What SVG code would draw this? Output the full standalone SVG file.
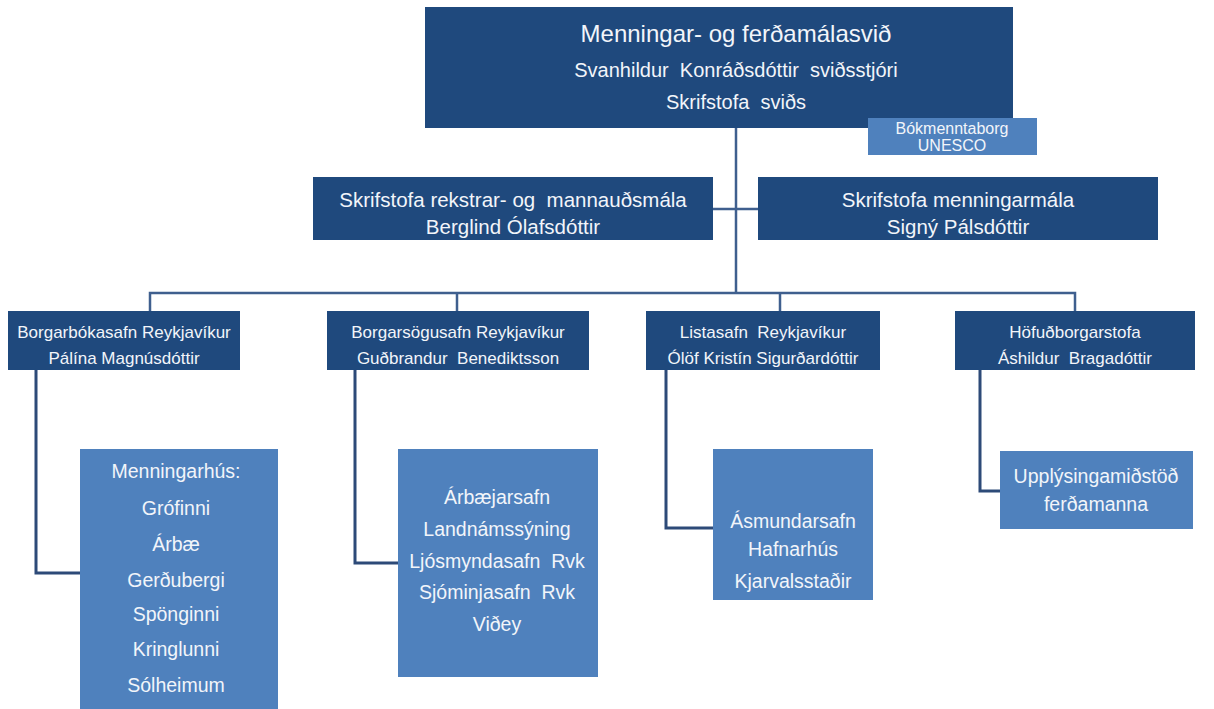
<svg xmlns="http://www.w3.org/2000/svg" width="1214" height="709" viewBox="0 0 1214 709">
<style>
.dk{fill:#1f497d}
.lt{fill:#4f81bd}
text{font-family:"Liberation Sans","DejaVu Sans",sans-serif;fill:#f2f5fa;text-anchor:middle;font-size:17px;white-space:pre}
.t1{font-size:24px}
.t2{font-size:20px}
.t3{font-size:20.5px}
.t4{font-size:19.5px}
.ln{fill:none;stroke:#3f5f8e;stroke-width:2.5}
.ln2{fill:none;stroke:#2d4a78;stroke-width:3}
</style>
<rect width="1214" height="709" fill="#ffffff"/>
<g id="connectors">
<path class="ln" d="M736 128V294"/>
<path class="ln" d="M713 209H758"/>
<path class="ln" d="M150 311V293H1075V311M457 293V311M780 293V311"/>
<path class="ln2" d="M36 370V573H80"/>
<path class="ln2" d="M355 370V563H398"/>
<path class="ln2" d="M666 370V528H713"/>
<path class="ln2" d="M980 370V491H1000"/>
</g>
<g id="n-top">
<rect class="dk" x="425" y="7" width="588" height="121"/>
<text class="t1" x="736" y="42">Menningar- og ferðamálasvið</text>
<text class="t2" x="736" y="77">Svanhildur  Konráðsdóttir  sviðsstjóri</text>
<text class="t2" x="736" y="109">Skrifstofa  sviðs</text>
</g>
<g id="n-unesco">
<rect class="lt" x="868" y="118" width="169" height="37"/>
<text x="952" y="134" style="font-size:16px">Bókmenntaborg</text>
<text x="952" y="151" style="font-size:16px">UNESCO</text>
</g>
<g id="n-rekstur">
<rect class="dk" x="313" y="177" width="400" height="63"/>
<text class="t3" x="513" y="207">Skrifstofa rekstrar- og  mannauðsmála</text>
<text class="t3" x="513" y="234">Berglind Ólafsdóttir</text>
</g>
<g id="n-menning">
<rect class="dk" x="758" y="177" width="400" height="63"/>
<text class="t3" x="958" y="207">Skrifstofa menningarmála</text>
<text class="t3" x="958" y="234">Signý Pálsdóttir</text>
</g>
<g id="n-bokasafn">
<rect class="dk" x="8" y="311" width="232" height="59"/>
<text x="124" y="338">Borgarbókasafn Reykjavíkur</text>
<text x="124" y="364">Pálína Magnúsdóttir</text>
</g>
<g id="n-sogusafn">
<rect class="dk" x="327" y="311" width="262" height="59"/>
<text x="458" y="338">Borgarsögusafn Reykjavíkur</text>
<text x="458" y="364">Guðbrandur  Benediktsson</text>
</g>
<g id="n-listasafn">
<rect class="dk" x="646" y="311" width="234" height="59"/>
<text x="763" y="338">Listasafn  Reykjavíkur</text>
<text x="763" y="364">Ólöf Kristín Sigurðardóttir</text>
</g>
<g id="n-hofudborg">
<rect class="dk" x="955" y="311" width="240" height="59"/>
<text x="1075" y="338">Höfuðborgarstofa</text>
<text x="1075" y="364">Áshildur  Bragadóttir</text>
</g>
<g id="n-menningarhus">
<rect class="lt" x="80" y="449" width="198" height="262"/>
<text class="t4" x="176" y="478">Menningarhús:</text>
<text class="t4" x="176" y="515">Grófinni</text>
<text class="t4" x="176" y="551">Árbæ</text>
<text class="t4" x="176" y="587">Gerðubergi</text>
<text class="t4" x="176" y="621">Spönginni</text>
<text class="t4" x="176" y="656">Kringlunni</text>
<text class="t4" x="176" y="692">Sólheimum</text>
</g>
<g id="n-arbaejarsafn">
<rect class="lt" x="398" y="449" width="200" height="228"/>
<text class="t4" x="497" y="504">Árbæjarsafn</text>
<text class="t4" x="497" y="536">Landnámssýning</text>
<text class="t4" x="497" y="568">Ljósmyndasafn  Rvk</text>
<text class="t4" x="497" y="599">Sjóminjasafn  Rvk</text>
<text class="t4" x="497" y="631">Viðey</text>
</g>
<g id="n-asmundarsafn">
<rect class="lt" x="713" y="449" width="160" height="151"/>
<text class="t4" x="793" y="528">Ásmundarsafn</text>
<text class="t4" x="793" y="556">Hafnarhús</text>
<text class="t4" x="793" y="588">Kjarvalsstaðir</text>
</g>
<g id="n-upplysinga">
<rect class="lt" x="1000" y="451" width="193" height="78"/>
<text class="t4" x="1096" y="483">Upplýsingamiðstöð</text>
<text class="t4" x="1096" y="511">ferðamanna</text>
</g>
</svg>
